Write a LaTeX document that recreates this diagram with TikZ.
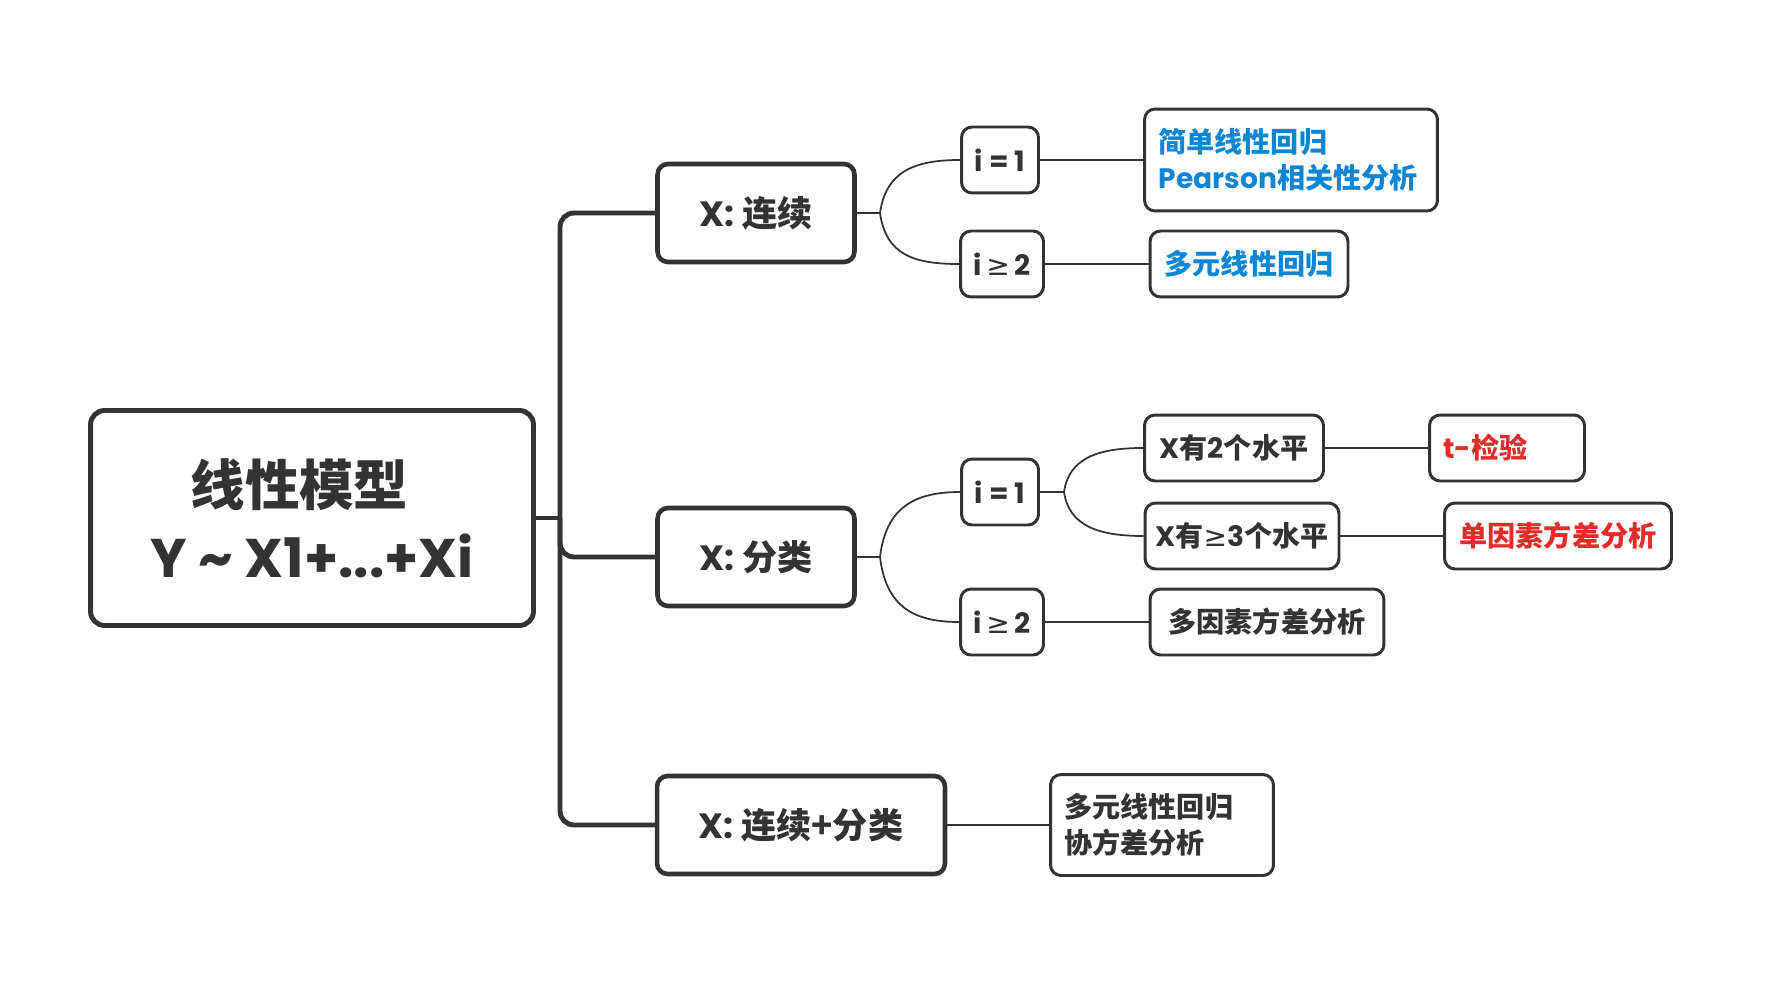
\documentclass[tikz,border=0pt]{standalone}
\usepackage{fontspec}
\setmainfont{Poppins}
\newfontfamily\cjk{Noto Sans CJK SC}
\newfontfamily\symfont{DejaVu Sans}
\newcommand{\zh}[1]{{\cjk #1}}
\newcommand{\gesym}{{\symfont\mdseries ≥}}
\definecolor{ink}{HTML}{333333}
\definecolor{lanse}{HTML}{0A86D4}
\definecolor{hongse}{HTML}{E62B2B}

\tikzset{
  mapbox/.style={draw=ink, text=ink, inner sep=0pt},
  rootbox/.style={mapbox, line width=2.8pt, rounded corners=8pt, minimum width=8.86cm, minimum height=4.3cm,
    align=center, font=\bfseries\fontsize{31}{41}\selectfont},
  topicbox/.style={mapbox, line width=2.6pt, rounded corners=6pt, minimum height=1.96cm,
    font=\bfseries\fontsize{20}{24}\selectfont},
  subbox/.style={mapbox, line width=1.7pt, rounded corners=6pt, minimum height=1.32cm,
    font=\bfseries\fontsize{16}{20.4}\selectfont},
  leftbox/.style={subbox, align=left, inner xsep=0.28cm},
  trunk/.style={ink, line width=2.8pt, rounded corners=8pt},
  twig/.style={ink, line width=1pt},
}

\begin{document}
\begin{tikzpicture}[x=0.02cm, y=-0.02cm]
    \useasboundingbox (0,0) rectangle (1779,983);

    % 中心主题
    \node[rootbox] (root) at (312,518) {\zh{线性模型}\hspace*{0.5cm}\\Y \textasciitilde{} X1+...+Xi};

    % 一级分支
    \node[topicbox, minimum width=3.94cm] (cont) at (756,213) {X: \zh{连续}};
    \node[topicbox, minimum width=3.94cm] (cate) at (756,557) {X: \zh{分类}};
    \node[topicbox, minimum width=5.76cm] (mix) at (801,825) {X: \zh{连续+分类}};

    % 主干
    \coordinate (hub) at (560,518);
    \draw[trunk] (root.east) -- (hub);
    \draw[trunk] (hub) |- (cont.west);
    \draw[trunk] (hub) |- (cate.west);
    \draw[trunk] (hub) |- (mix.west);

    % X: 连续
    \node[subbox, minimum width=1.54cm] (cont1) at (1000,160) {i = 1};
    \node[subbox, minimum width=1.66cm] (cont2) at (1002,264) {i\,\gesym\,2};
    \node[leftbox, text width=5.3cm, minimum height=2.04cm, text=lanse] (simple) at (1291,160)
      {\zh{简单线性回归}\\Pearson\zh{相关性分析}};
    \node[subbox, minimum width=3.96cm, text=lanse] (multi) at (1249,264) {\zh{多元线性回归}};
    \coordinate (contj) at (880,213);
    \draw[twig] (cont.east) -- (contj);
    \draw[twig] (contj) .. controls +(6,-42) and +(-45,0) .. (cont1.west);
    \draw[twig] (contj) .. controls +(6,42) and +(-45,0) .. (cont2.west);
    \draw[twig] (cont1.east) -- (simple.west);
    \draw[twig] (cont2.east) -- (multi.west);

    % X: 分类
    \node[subbox, minimum width=1.54cm] (cate1) at (1000,492) {i = 1};
    \node[subbox, minimum width=1.66cm] (cate2) at (1002,622) {i\,\gesym\,2};
    \node[subbox, minimum width=3.58cm] (lv2) at (1234,448) {X\zh{有}2\zh{个水平}};
    \node[subbox, minimum width=3.88cm] (lv3) at (1242,536) {X\zh{有}\gesym3\zh{个水平}};
    \node[leftbox, text width=2.54cm, text=hongse] (ttest) at (1507,448) {t-\zh{检验}};
    \node[subbox, minimum width=4.54cm, text=hongse] (anova1) at (1558,536) {\zh{单因素方差分析}};
    \node[subbox, minimum width=4.68cm] (anova2) at (1267,622) {\zh{多因素方差分析}};
    \coordinate (catej) at (880,557);
    \coordinate (cate1j) at (1064,492);
    \draw[twig] (cate.east) -- (catej);
    \draw[twig] (catej) .. controls +(6,-50) and +(-45,0) .. (cate1.west);
    \draw[twig] (catej) .. controls +(6,50) and +(-45,0) .. (cate2.west);
    \draw[twig] (cate1.east) -- (cate1j);
    \draw[twig] (cate1j) .. controls +(5,-34) and +(-45,0) .. (lv2.west);
    \draw[twig] (cate1j) .. controls +(5,34) and +(-45,0) .. (lv3.west);
    \draw[twig] (lv2.east) -- (ttest.west);
    \draw[twig] (lv3.east) -- (anova1.west);
    \draw[twig] (cate2.east) -- (anova2.west);

    % X: 连续+分类
    \node[leftbox, text width=3.9cm, minimum height=2.02cm] (ancova) at (1162,825)
      {\zh{多元线性回归}\\\zh{协方差分析}};
    \draw[twig] (mix.east) -- (ancova.west);
\end{tikzpicture}
\end{document}
